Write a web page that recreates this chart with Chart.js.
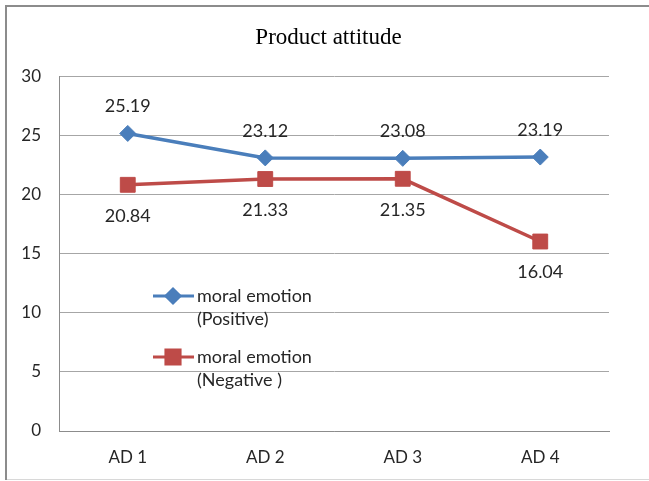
<!DOCTYPE html>
<html>
<head>
<meta charset="utf-8">
<script src="https://cdn.jsdelivr.net/npm/chart.js@4.4.1/dist/chart.umd.min.js"></script>
<style>
  html, body { margin: 0; padding: 0; background: #ffffff; }
  #wrap { width: 649px; height: 481px; position: relative; }
</style>
</head>
<body>
<div id="wrap"><canvas id="c" width="649" height="481"></canvas></div>
<script>
// Categories and series
const categories = ['AD 1', 'AD 2', 'AD 3', 'AD 4'];
const positiveValues = [25.19, 23.12, 23.08, 23.19];
const negativeValues = [20.84, 21.33, 21.35, 16.04];
const seriesNames = [['moral emotion', '(Positive)'], ['moral emotion', '(Negative )']];
const yTicks = [0, 5, 10, 15, 20, 25, 30];

const BLUE = '#4a7ebb';
const RED = '#be4b48';
const TEXT = '#262626';
const FONT = 'Lato, "Liberation Sans", sans-serif';

// Outer frame around the whole chart
const framePlugin = {
  id: 'frame',
  beforeDraw(chart) {
    const ctx = chart.ctx;
    ctx.save();
    ctx.fillStyle = '#ffffff';
    ctx.fillRect(0, 0, chart.width, chart.height);
    ctx.strokeStyle = '#d8d8d8';
    ctx.lineWidth = 1;
    ctx.beginPath();
    ctx.moveTo(5, 479.5);
    ctx.lineTo(chart.width, 479.5);
    ctx.stroke();
    ctx.strokeStyle = '#8c8c8c';
    ctx.lineWidth = 2;
    ctx.beginPath();
    ctx.moveTo(6, 480);
    ctx.lineTo(6, 6);
    ctx.lineTo(chart.width, 6);
    ctx.stroke();
    ctx.restore();
  }
};

// Value labels: positive series above its points, negative series below
const valueLabelPlugin = {
  id: 'valueLabels',
  afterDatasetsDraw(chart) {
    const ctx = chart.ctx;
    ctx.save();
    ctx.font = '18px ' + FONT;
    ctx.fillStyle = TEXT;
    ctx.textAlign = 'center';
    ctx.textBaseline = 'middle';
    chart.data.datasets.forEach((ds, i) => {
      const meta = chart.getDatasetMeta(i);
      const offset = i === 0 ? -27 : 31;
      meta.data.forEach((pt, j) => {
        ctx.fillText(ds.data[j].toFixed(2), pt.x, pt.y + offset);
      });
    });
    ctx.restore();
  }
};

// Two-line legend placed inside the plot area
const innerLegendPlugin = {
  id: 'innerLegend',
  afterDatasetsDraw(chart) {
    const ctx = chart.ctx;
    const entries = [
      { y: 296, color: BLUE, style: 'rectRot', radius: 7, names: seriesNames[0] },
      { y: 357, color: RED, style: 'rect', radius: 10, names: seriesNames[1] }
    ];
    ctx.save();
    entries.forEach(e => {
      ctx.strokeStyle = e.color;
      ctx.lineWidth = 3;
      ctx.beginPath();
      ctx.moveTo(153, e.y);
      ctx.lineTo(194, e.y);
      ctx.stroke();
      ctx.fillStyle = e.color;
      Chart.helpers.drawPoint(ctx, { pointStyle: e.style, radius: e.radius, borderWidth: 1 }, 173, e.y);
      ctx.fill();
      ctx.font = '18px ' + FONT;
      ctx.fillStyle = TEXT;
      ctx.textAlign = 'left';
      ctx.textBaseline = 'middle';
      ctx.fillText(e.names[0], 197, e.y);
      ctx.fillText(e.names[1], 197, e.y + 23);
    });
    ctx.restore();
  }
};

new Chart(document.getElementById('c'), {
  type: 'line',
  data: {
    labels: categories,
    datasets: [
      {
        label: seriesNames[0].join(' '),
        data: positiveValues,
        borderColor: BLUE,
        backgroundColor: BLUE,
        borderWidth: 3.5,
        pointStyle: 'rectRot',
        pointRadius: 8,
        pointHoverRadius: 8,
        pointBorderWidth: 1,
        tension: 0
      },
      {
        label: seriesNames[1].join(' '),
        data: negativeValues,
        borderColor: RED,
        backgroundColor: RED,
        borderWidth: 3.5,
        pointStyle: 'rect',
        pointRadius: 10.5,
        pointHoverRadius: 10.5,
        pointBorderWidth: 1,
        tension: 0
      }
    ]
  },
  options: {
    responsive: false,
    animation: false,
    events: [],
    layout: { padding: { left: 8, right: 0, top: 0, bottom: 0 } },
    plugins: {
      legend: { display: false },
      tooltip: { enabled: false },
      title: {
        display: true,
        text: 'Product attitude',
        color: '#000000',
        font: { family: '"Liberation Serif", "Times New Roman", serif', size: 23, weight: 'normal', lineHeight: 1.2 },
        padding: { top: 24, bottom: 25 }
      }
    },
    scales: {
      x: {
        grid: { display: false, drawTicks: false },
        border: { display: true, color: '#8c8c8c', width: 1 },
        offset: true,
        ticks: { color: TEXT, font: { family: FONT, size: 17 }, padding: 16 },
        afterFit(scale) { scale.height = 50; }
      },
      y: {
        min: 0,
        max: 30,
        afterBuildTicks(scale) { scale.ticks = yTicks.map(v => ({ value: v })); },
        grid: { color: '#a6a6a6', lineWidth: 1, drawTicks: false },
        border: { display: true, color: '#8c8c8c', width: 1 },
        ticks: { color: TEXT, font: { family: FONT, size: 17 }, padding: 18 },
        afterFit(scale) { scale.width = 51; }
      },
      // blank right-hand margin of the plot
      yRight: {
        position: 'right',
        min: 0,
        max: 30,
        grid: { display: false, drawTicks: false },
        border: { display: false },
        ticks: { display: false },
        afterFit(scale) { scale.width = 40; }
      }
    }
  },
  plugins: [framePlugin, valueLabelPlugin, innerLegendPlugin]
});
</script>
</body>
</html>
